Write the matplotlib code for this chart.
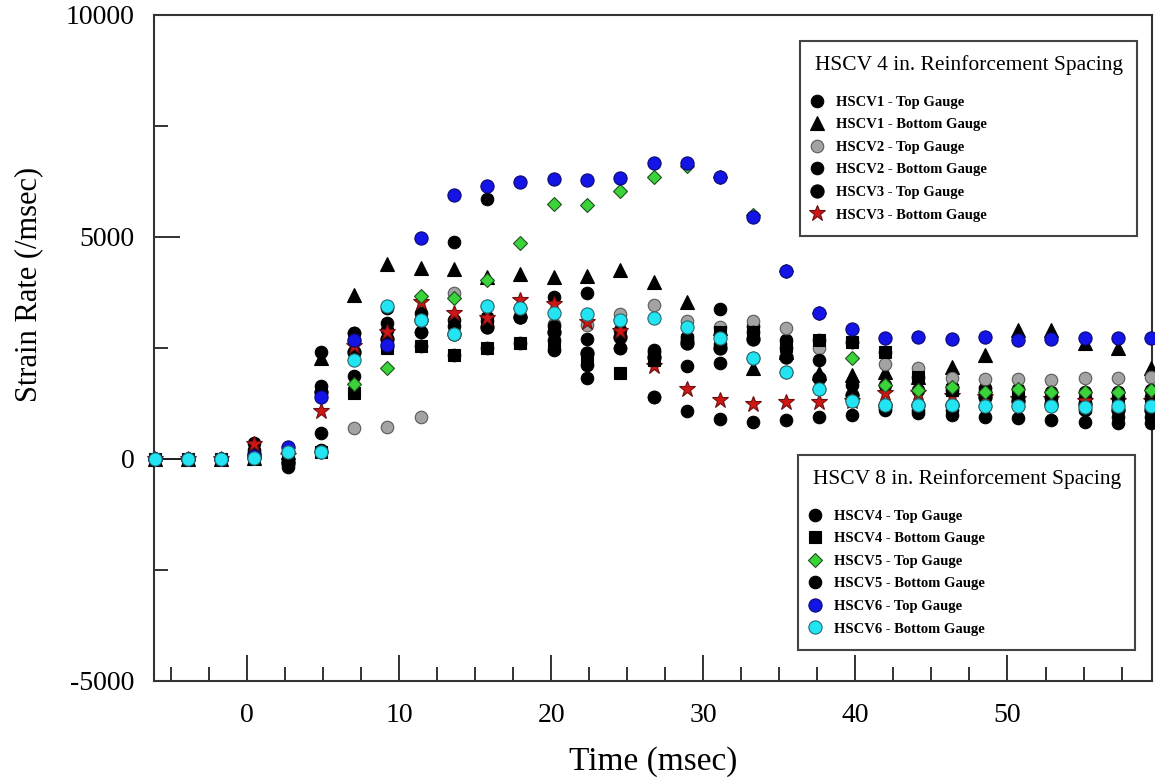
import matplotlib.pyplot as plt
from matplotlib.ticker import MultipleLocator

plt.rcParams['font.family'] = ['Liberation Serif', 'DejaVu Serif']
plt.rcParams['axes.unicode_minus'] = False

# time of each sample (msec)
time = [-6.05, -3.88, -1.71, 0.46, 2.70, 4.87, 7.04, 9.21, 11.45, 13.62, 15.79,
        17.96, 20.20, 22.37, 24.54, 26.78, 28.95, 31.12, 33.29, 35.46, 37.63,
        39.80, 41.97, 44.14, 46.38, 48.55, 50.72, 52.89, 55.07, 57.24, 59.41]

# strain rate (/msec)
hscv1_top = [0, 0, 0, 350, 150, 2420, 2830, 3060, 3290, 3130, 3200, 3390, 3655, 3730, 3130, 2455,
             2755, 3370, 3000, 2680, 2680, 2640, 2400, 1855, 1630, 1600, 1575, 1500, 1515, 1515, 1555]
hscv1_bot = [0, 0, 0, 30, 165, 2280, 3690, 4400, 4295, 4270, 4100, 4165, 4105, 4120, 4255, 3995,
             3540, 2950, 2045, 2400, 1930, 1890, 1965, 1855, 2080, 2340, 2905, 2905, 2605, 2490, 2040]
hscv2_top = [0, 0, 0, 30, 165, 165, 705, 720, 950, 3730, 3450, 3390, 3050, 3020, 3260, 3470,
             3110, 2980, 3110, 2945, 2490, 2640, 2150, 2040, 1815, 1800, 1800, 1780, 1815, 1815, 1855]
hscv2_bot = [0, 0, 0, 200, -20, 1650, 2650, 2900, 2870, 3000, 3100, 3205, 3000, 2695, 2900, 2400,
             2680, 2600, 2850, 2500, 2230, 1665, 1665, 1555, 1555, 1515, 1400, 1365, 1365, 1400, 1400]
hscv3_top = [0, 0, 0, 120, -100, 1500, 2400, 2700, 3130, 2815, 2980, 3205, 2870, 2385, 2755, 2300,
             2605, 2490, 2700, 2300, 1815, 1440, 1215, 1215, 1215, 1400, 1300, 1250, 1250, 1100, 1100]
hscv3_bot = [0, 0, 0, 330, 60, 1090, 2550, 2870, 3540, 3295, 3175, 3580, 3490, 3090, 2890, 2095,
             1570, 1330, 1240, 1275, 1290, 1315, 1480, 1480, 1420, 1400, 1350, 1350, 1300, 1300, 1300]
hscv4_top = [0, 0, 0, 60, -170, 590, 1870, 2520, 2870, 2340, 2490, 2620, 2680, 2115, 2490, 1400,
             2100, 2170, 2270, 1965, 1570, 1315, 1150, 1100, 1100, 1200, 1195, 1195, 1100, 950, 950]
hscv4_bot = [0, 0, 0, 30, -20, 165, 1490, 2500, 2545, 2340, 2490, 2620, 2550, 2250, 1930, 2230,
             2680, 2850, 2850, 2550, 2680, 2640, 2400, 1855, 1555, 1500, 1400, 1300, 1180, 1250, 1250]
hscv5_top = [0, 0, 0, 30, 165, 165, 1690, 2040, 3670, 3620, 4030, 4870, 5740, 5720, 6045, 6345,
             6600, 6345, 5500, 4240, 3280, 2265, 1665, 1555, 1630, 1515, 1575, 1500, 1515, 1515, 1555]
hscv5_bot = [0, 0, 0, 20, -60, 200, 2830, 3400, 2545, 4895, 5855, 3205, 2455, 1830, 2490, 1400,
             1090, 900, 840, 880, 940, 990, 1100, 1045, 990, 955, 915, 880, 840, 800, 800]
hscv6_top = [0, 0, 0, 60, 277, 1400, 2680, 2570, 4970, 5945, 6150, 6245, 6305, 6285, 6320, 6660,
             6660, 6345, 5445, 4240, 3280, 2920, 2730, 2740, 2700, 2740, 2680, 2700, 2715, 2715, 2715]
hscv6_bot = [0, 0, 0, 30, 165, 165, 2230, 3445, 3130, 2815, 3445, 3390, 3280, 3260, 3130, 3170,
             2980, 2715, 2270, 1965, 1570, 1315, 1215, 1215, 1215, 1200, 1195, 1195, 1180, 1195, 1195]

labels = ["HSCV1 - Top Gauge", "HSCV1 - Bottom Gauge", "HSCV2 - Top Gauge",
          "HSCV2 - Bottom Gauge", "HSCV3 - Top Gauge", "HSCV3 - Bottom Gauge",
          "HSCV4 - Top Gauge", "HSCV4 - Bottom Gauge", "HSCV5 - Top Gauge",
          "HSCV5 - Bottom Gauge", "HSCV6 - Top Gauge", "HSCV6 - Bottom Gauge"]
series = [hscv1_top, hscv1_bot, hscv2_top, hscv2_bot, hscv3_top, hscv3_bot,
          hscv4_top, hscv4_bot, hscv5_top, hscv5_bot, hscv6_top, hscv6_bot]

# marker, size, face, edge
styles = [
    ("o", 9, "black", "black"),
    ("^", 10, "black", "black"),
    ("o", 9, "#a3a3a3", "#5a5a5a"),
    ("o", 9, "black", "black"),
    ("o", 9.5, "black", "black"),
    ("*", 12, "#d01515", "#6a1010"),
    ("o", 9, "black", "black"),
    ("s", 8.5, "black", "black"),
    ("D", 7, "#3ad43a", "#1f4f1f"),
    ("o", 9, "black", "black"),
    ("o", 9.5, "#1414e6", "#0a0a70"),
    ("o", 9.5, "#22e4f2", "#2a6a70"),
]

fig = plt.figure(figsize=(11.55, 7.8), dpi=100)
ax = fig.add_axes([154 / 1155, 1 - 681 / 780, 998 / 1155, 666 / 780])

ax.plot(time[:2], hscv1_top[:2], color="black", lw=1.2, zorder=1)

handles = []
for vals, lab, (m, ms, fc, ec) in zip(series, labels, styles):
    h, = ax.plot(time, vals, linestyle="none", marker=m, markersize=ms,
                 markerfacecolor=fc, markeredgecolor=ec, markeredgewidth=0.8,
                 label=lab, clip_on=False, zorder=3)
    handles.append(h)

ax.set_xlim(-6.1, 59.5)
ax.set_ylim(-5000, 10000)
ax.xaxis.set_major_locator(MultipleLocator(10))
ax.xaxis.set_minor_locator(MultipleLocator(2.5))
ax.yaxis.set_major_locator(MultipleLocator(5000))
ax.yaxis.set_minor_locator(MultipleLocator(2500))
ax.tick_params(which="both", direction="in", color="#222222", width=1.3,
               labelsize=20, top=False, right=False)
ax.tick_params(which="major", length=19)
ax.tick_params(which="minor", length=10)
ax.tick_params(axis="x", pad=15.5)
ax.tick_params(axis="y", pad=14)
for sp in ax.spines.values():
    sp.set_color("#333333")
    sp.set_linewidth(1.5)

ax.set_xlabel("Time (msec)", fontsize=24)
ax.set_ylabel("Strain Rate (/msec)", fontsize=22)
ax.xaxis.set_label_coords(0.5, -0.098)
ax.yaxis.set_label_coords(-0.111, 0.596)

leg_kw = dict(loc="upper left", bbox_transform=fig.transFigure, borderaxespad=0,
              prop={"size": 10.5, "weight": "bold"}, title_fontsize=15.5,
              alignment="left", frameon=True, fancybox=False, framealpha=1,
              edgecolor="#444444", borderpad=1.0, handlelength=0.3,
              handletextpad=1.2, labelspacing=0.64)
leg1 = ax.legend(handles=handles[:6], title="HSCV 4 in. Reinforcement Spacing",
                 bbox_to_anchor=(800 / 1155, 1 - 41 / 780), **leg_kw)
ax.add_artist(leg1)
leg2 = ax.legend(handles=handles[6:], title="HSCV 8 in. Reinforcement Spacing",
                 bbox_to_anchor=(798 / 1155, 1 - 455 / 780), **leg_kw)
for leg in (leg1, leg2):
    leg.get_frame().set_linewidth(1.5)
    leg.set_zorder(5)
    leg._legend_box.sep = 14.5  # gap between title and entries

fig.savefig("out.png", dpi=100)
